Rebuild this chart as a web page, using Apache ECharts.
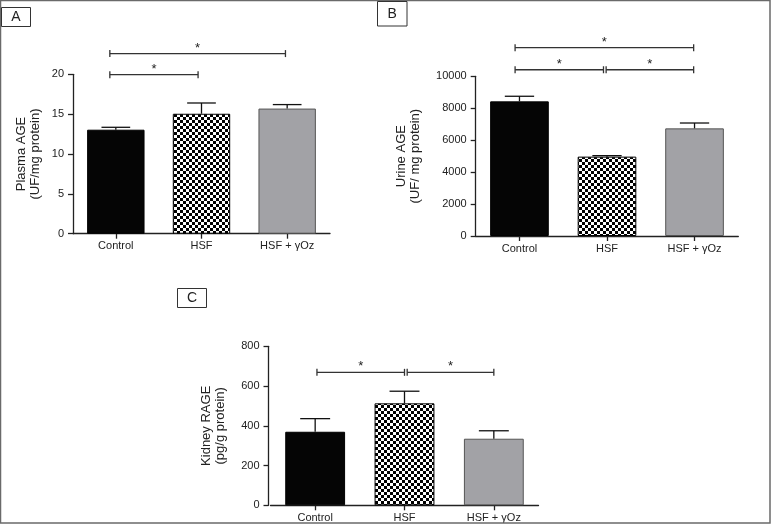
<!DOCTYPE html>
<html>
<head>
<meta charset="utf-8">
<script src="https://cdn.jsdelivr.net/npm/echarts@6/dist/echarts.min.js"></script>
<style>
html,body{margin:0;padding:0;background:#fff;}
#c{width:771px;height:524px;}
</style>
</head>
<body>
<div id="c"></div>
<script>
// ---- data ----
const categories = ['Control', 'HSF', 'HSF + γOz'];
const plasmaAGE = [13.05, 15.05, 15.7];
const plasmaSEM = [0.3, 1.35, 0.5];
const urineAGE = [8430, 4970, 6740];
const urineSEM = [320, 60, 335];
const kidneyRAGE = [370, 513, 335];
const kidneySEM = [66, 61, 40];
// significance brackets: [xStart, xEnd, y] in category-index units
const plasmaSig = [[-0.07, 1.98, 22.6], [-0.07, 0.96, 19.95]];
const urineSig = [[-0.05, 1.99, 11790], [-0.05, 0.96, 10410], [0.99, 1.99, 10410]];
const kidneySig = [[0.02, 1.0, 669], [1.03, 2.0, 669]];

// checkerboard pattern
const pat = document.createElement('canvas');
pat.width = 6; pat.height = 6;
const pc = pat.getContext('2d');
pc.fillStyle = '#fff'; pc.fillRect(0, 0, 6, 6);
pc.fillStyle = '#000'; pc.fillRect(0, 0, 3, 3); pc.fillRect(3, 3, 3, 3);
const checker = { image: pat, repeat: 'repeat' };

const FONT = 'Liberation Sans, Arial, sans-serif';
const barStyles = [
  { color: '#050505', borderColor: '#000', borderWidth: 1 },
  { color: checker, borderColor: '#000', borderWidth: 1 },
  { color: '#a2a2a6', borderColor: '#555', borderWidth: 1 }
];

const grids = [
  { left: 73, top: 74.3, width: 257, height: 159.4 },
  { left: 475.7, top: 76.3, width: 262.6, height: 159.7 },
  { left: 270.5, top: 346.3, width: 268, height: 159 }
];
const yDefs = [
  { max: 20, interval: 5, name: 'Plasma AGE\n(UF/mg protein)', gap: 31 },
  { max: 10000, interval: 2000, name: 'Urine AGE\n(UF/ mg protein)', gap: 53 },
  { max: 800, interval: 200, name: 'Kidney RAGE\n(pg/g protein)', gap: 41 }
];
const values = [plasmaAGE, urineAGE, kidneyRAGE];
const sems = [plasmaSEM, urineSEM, kidneySEM];
const sigs = [plasmaSig, urineSig, kidneySig];

const xAxes = [], yAxes = [], series = [];
grids.forEach((g, i) => {
  xAxes.push({
    type: 'category', gridIndex: i, data: categories,
    axisLine: { show: true, onZero: false, lineStyle: { color: '#222', width: 1.3 } },
    axisTick: { show: true, alignWithLabel: true, length: 5, lineStyle: { color: '#222', width: 1.3 } },
    axisLabel: { color: '#222', fontSize: 11, fontFamily: FONT, margin: 7 }
  });
  yAxes.push({
    type: 'value', gridIndex: i, min: 0, max: yDefs[i].max, interval: yDefs[i].interval,
    offset: i === 2 ? 2 : 0,
    name: yDefs[i].name, nameLocation: 'middle', nameRotate: 90, nameGap: yDefs[i].gap,
    nameTextStyle: { color: '#222', fontSize: 13, fontFamily: FONT, lineHeight: 14 },
    axisLine: { show: true, onZero: false, lineStyle: { color: '#222', width: 1.3 } },
    axisTick: { show: true, length: 5, lineStyle: { color: '#222', width: 1.3 } },
    axisLabel: { color: '#222', fontSize: 11, fontFamily: FONT, margin: 9, formatter: v => String(v) },
    splitLine: { show: false }
  });
});
grids.forEach((g, i) => {
  xAxes.push({ type: 'value', gridIndex: i, min: -0.5, max: 2.5, show: false, axisLine: { onZero: false } });
});

grids.forEach((g, i) => {
  series.push({
    type: 'bar', xAxisIndex: i, yAxisIndex: i, barWidth: '67%', silent: true,
    data: values[i].map((v, k) => ({ value: v, itemStyle: barStyles[k] })),
    z: 2
  });
  series.push({
    type: 'custom', xAxisIndex: i, yAxisIndex: i, silent: true, z: 3,
    data: values[i].map((v, k) => [k, v, v + sems[i][k]]),
    renderItem: function (params, api) {
      const p0 = api.coord([api.value(0), api.value(1)]);
      const p1 = api.coord([api.value(0), api.value(2)]);
      const half = api.size([1, 0])[0] * 0.67 / 4;
      return {
        type: 'group', children: [
          { type: 'line', shape: { x1: p0[0], y1: p0[1], x2: p1[0], y2: p1[1] }, style: { stroke: '#111', lineWidth: 1.3 } },
          { type: 'line', shape: { x1: p1[0] - half, y1: p1[1], x2: p1[0] + half, y2: p1[1] }, style: { stroke: '#111', lineWidth: 1.3 } }
        ]
      };
    }
  });
  series.push({
    type: 'custom', xAxisIndex: 3 + i, yAxisIndex: i, silent: true, z: 4,
    data: sigs[i],
    renderItem: function (params, api) {
      const a = api.coord([api.value(0), api.value(2)]);
      const b = api.coord([api.value(1), api.value(2)]);
      const st = { stroke: '#333', lineWidth: 1.3 };
      return {
        type: 'group', children: [
          { type: 'line', shape: { x1: a[0], y1: a[1], x2: b[0], y2: b[1] }, style: st },
          { type: 'line', shape: { x1: a[0], y1: a[1] - 3.5, x2: a[0], y2: a[1] + 3.5 }, style: st },
          { type: 'line', shape: { x1: b[0], y1: b[1] - 3.5, x2: b[0], y2: b[1] + 3.5 }, style: st },
          { type: 'text', x: (a[0] + b[0]) / 2, y: a[1] + 1, style: { text: '*', fill: '#222', fontSize: 13, fontFamily: FONT, align: 'center', verticalAlign: 'bottom' } }
        ]
      };
    }
  });
});

const boxes = [
  { x: 1, y: 7, w: 29, h: 19, t: 'A' },
  { x: 377, y: 1, w: 29.5, h: 24.5, t: 'B' },
  { x: 177, y: 288, w: 29, h: 19, t: 'C' }
];
const graphic = [
  { type: 'rect', shape: { x: 0.5, y: 0.5, width: 769.5, height: 522.5 }, style: { fill: 'none', stroke: '#6a6a6a', lineWidth: 1.5 }, z: 10 }
];
boxes.forEach(b => {
  graphic.push({ type: 'rect', shape: { x: b.x + 0.5, y: b.y + 0.5, width: b.w, height: b.h }, style: { fill: '#fff', stroke: '#333', lineWidth: 1 }, z: 10 });
  graphic.push({ type: 'text', x: b.x + b.w / 2 + 0.5, y: b.y + b.h / 2 + 1, style: { text: b.t, fontSize: 14, fontFamily: FONT, fill: '#222', align: 'center', verticalAlign: 'middle' }, z: 11 });
});

const chart = echarts.init(document.getElementById('c'), null, { renderer: 'canvas' });
chart.setOption({
  animation: false,
  backgroundColor: '#fff',
  grid: grids,
  xAxis: xAxes,
  yAxis: yAxes,
  series: series,
  graphic: graphic
});
</script>
</body>
</html>
